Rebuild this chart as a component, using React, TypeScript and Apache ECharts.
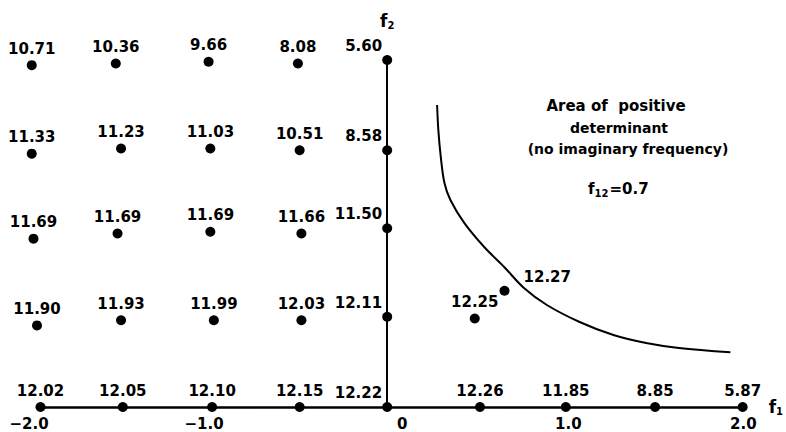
import React, { useEffect, useRef } from "react";
import * as echarts from "echarts";

const topF1 = [
  -2.03, -1.55, -1.02, -0.51,
  -2.03, -1.52, -1.01, -0.5,
  -2.02, -1.54, -1.01, -0.49,
  -2.0, -1.52, -0.99, -0.49,
  -1.98, -1.51, -1.0, -0.5,
  0.53, 1.02, 1.53, 2.03,
  0.5,
];
const topF2 = [
  1.97, 1.98, 1.99, 1.98,
  1.46, 1.49, 1.49, 1.48,
  0.97, 1.0, 1.01, 1.0,
  0.47, 0.5, 0.5, 0.5,
  0, 0, 0, 0,
  0, 0, 0, 0,
  0.51,
];
const topFreq = [
  10.71, 10.36, 9.66, 8.08,
  11.33, 11.23, 11.03, 10.51,
  11.69, 11.69, 11.69, 11.66,
  11.9, 11.93, 11.99, 12.03,
  12.02, 12.05, 12.1, 12.15,
  12.26, 11.85, 8.85, 5.87,
  12.25,
];

// Points on the f2 axis (f1 = 0), labelled to their left
const axisF2 = [2.0, 1.48, 1.03, 0.52, 0];
const axisFreq = [5.6, 8.58, 11.5, 12.11, 12.22];

// Point on the boundary curve, labelled to its right
const edgeF1 = [0.67];
const edgeF2 = [0.67];
const edgeFreq = [12.27];

// Boundary of the area of positive determinant
const curveF1 = [0.285, 0.292, 0.306, 0.327, 0.361, 0.44, 0.554, 0.668, 0.781, 0.912, 1.099, 1.292, 1.479, 1.666, 1.96];
const curveF2 = [1.741, 1.597, 1.441, 1.291, 1.193, 1.061, 0.922, 0.807, 0.686, 0.588, 0.49, 0.415, 0.369, 0.34, 0.315];

const xTicks = [-2, -1, 0, 1, 2];

const FONT = "DejaVu Sans";
const numLabel = {
  show: true,
  color: "#000",
  fontFamily: FONT,
  fontWeight: "bold" as const,
  fontSize: 15,
};

export default function App() {
  const ref = useRef<HTMLDivElement>(null);

  useEffect(() => {
    if (!ref.current) return;
    const chart = echarts.init(ref.current, undefined, { renderer: "svg" });

    const topData = topF1.map((x, i) => [x, topF2[i], topFreq[i]]);
    const axisData = axisF2.map((y, i) => [0, y, axisFreq[i]]);
    const edgeData = edgeF1.map((x, i) => [x, edgeF2[i], edgeFreq[i]]);
    const curveData = curveF1.map((x, i) => [x, curveF2[i]]);

    const fmt = (p: any) => Number(p.value[2]).toFixed(2);

    const tickText = {
      color: "#000",
      fontFamily: FONT,
      fontWeight: "bold" as const,
      fontSize: 15,
    };
    const dotStyle = { color: "#000", opacity: 1 };

    const option: any = {
      animation: false,
      backgroundColor: "#fff",
      grid: { left: 37, right: 39, top: 60, bottom: 25 },
      xAxis: {
        type: "value",
        min: -2,
        max: 2.03,
        interval: 1,
        name: "{f|f}{s|1}",
        nameLocation: "end",
        nameGap: 26,
        nameTextStyle: {
          rich: {
            f: { fontFamily: FONT, fontWeight: "bold", fontSize: 17, color: "#000" },
            s: { fontFamily: FONT, fontWeight: "bold", fontSize: 10, color: "#000", padding: [8, 0, 0, 0] },
          },
        },
        axisLine: { onZero: true, lineStyle: { color: "#000", width: 2.5 } },
        axisTick: { show: false },
        splitLine: { show: false },
        axisLabel: {
          margin: 9,
          ...tickText,
          formatter: (v: number) => {
            if (!xTicks.some((t) => Math.abs(t - v) < 1e-6)) return "";
            if (v === 0) return "{z|0}";
            if (v < 0) return "{n|\u2212" + Math.abs(v).toFixed(1) + "}";
            return "{p|" + v.toFixed(1) + "}";
          },
          rich: {
            z: { ...tickText, padding: [0, 0, 0, 30] },
            n: { ...tickText, padding: [0, 16, 0, 0] },
            p: { ...tickText, padding: [0, 0, 0, 12] },
          },
        },
      },
      yAxis: {
        type: "value",
        min: 0,
        max: 2,
        name: "{f|f}{s|2}",
        nameLocation: "end",
        nameGap: 30,
        nameTextStyle: {
          rich: {
            f: { fontFamily: FONT, fontWeight: "bold", fontSize: 17, color: "#000" },
            s: { fontFamily: FONT, fontWeight: "bold", fontSize: 10, color: "#000", padding: [8, 0, 0, 0] },
          },
        },
        axisLine: { onZero: true, lineStyle: { color: "#000", width: 2 } },
        axisTick: { show: false },
        axisLabel: { show: false },
        splitLine: { show: false },
      },
      series: [
        {
          type: "line",
          data: curveData,
          smooth: 0.35,
          showSymbol: false,
          symbol: "none",
          lineStyle: { color: "#000", width: 2, opacity: 1 },
          silent: true,
        },
        {
          type: "scatter",
          data: topData,
          symbolSize: 10,
          clip: false,
          itemStyle: dotStyle,
          label: { ...numLabel, position: "top", distance: 4, formatter: fmt },
        },
        {
          type: "scatter",
          data: axisData,
          symbolSize: 10,
          clip: false,
          itemStyle: dotStyle,
          label: { ...numLabel, position: "left", distance: 0, offset: [0, -14], formatter: fmt },
        },
        {
          type: "scatter",
          data: edgeData,
          symbolSize: 10,
          clip: false,
          itemStyle: dotStyle,
          label: { ...numLabel, position: "right", distance: 14, offset: [0, -14], formatter: fmt },
        },
      ],
      graphic: [
        {
          type: "text",
          x: 616,
          y: 106,
          style: { text: "Area of  positive", font: `bold 15px "${FONT}"`, fill: "#000", align: "center", verticalAlign: "middle" },
        },
        {
          type: "text",
          x: 619,
          y: 128,
          style: { text: "determinant", font: `bold 14px "${FONT}"`, fill: "#000", align: "center", verticalAlign: "middle" },
        },
        {
          type: "text",
          x: 628,
          y: 149,
          style: { text: "(no imaginary frequency)", font: `bold 14px "${FONT}"`, fill: "#000", align: "center", verticalAlign: "middle" },
        },
        {
          type: "text",
          x: 588,
          y: 189,
          style: {
            text: "{f|f}{s|12}{e|=0.7}",
            align: "left",
            verticalAlign: "middle",
            rich: {
              f: { fontFamily: FONT, fontWeight: "bold", fontSize: 15, fill: "#000", color: "#000" },
              s: { fontFamily: FONT, fontWeight: "bold", fontSize: 10, fill: "#000", color: "#000", padding: [8, 1, 0, 0] },
              e: { fontFamily: FONT, fontWeight: "bold", fontSize: 15, fill: "#000", color: "#000" },
            },
          },
        },
      ],
    };

    chart.setOption(option);
    return () => chart.dispose();
  }, []);

  return <div ref={ref} style={{ width: 786, height: 432, position: "absolute", left: 0, top: 0 }} />;
}
